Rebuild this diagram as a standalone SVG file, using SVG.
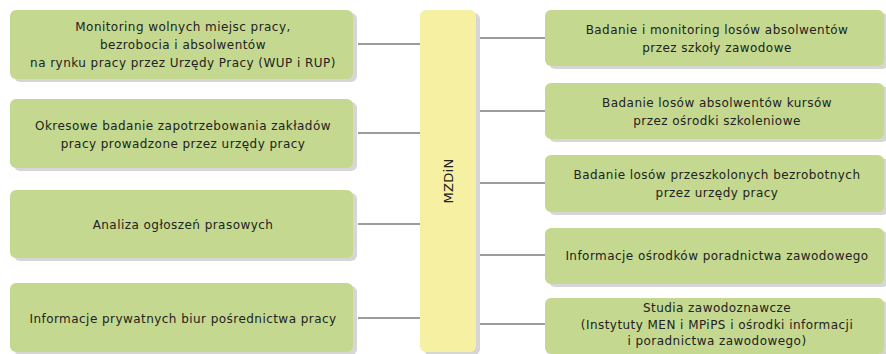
<svg xmlns="http://www.w3.org/2000/svg" width="886" height="354" viewBox="0 0 886 354">
  <style>
    .box { fill: #c4d98f; }
    .hub { fill: #f6f0a2; }
    .shadow { fill: #d6d6d6; }
    .lbl { font-family: "DejaVu Sans", "Liberation Sans", sans-serif; font-size: 12px; letter-spacing: 0.45px; fill: #222; text-anchor: middle; }
    .hubl { font-family: "DejaVu Sans", "Liberation Sans", sans-serif; font-size: 13px; letter-spacing: 0.3px; fill: #222; text-anchor: middle; }
    .link { stroke: #3a3a3a; stroke-width: 1.2; fill: none; }
  </style>
  <rect width="886" height="354" fill="#ffffff"/>

  <!-- connectors -->
  <g id="connectors">
    <line class="link" x1="358" y1="44" x2="420" y2="44"/>
    <line class="link" x1="358" y1="133" x2="420" y2="133"/>
    <line class="link" x1="358" y1="224" x2="420" y2="224"/>
    <line class="link" x1="358" y1="318" x2="420" y2="318"/>
    <line class="link" x1="480" y1="38" x2="545" y2="38"/>
    <line class="link" x1="480" y1="111" x2="545" y2="111"/>
    <line class="link" x1="480" y1="183" x2="545" y2="183"/>
    <line class="link" x1="480" y1="255" x2="545" y2="255"/>
    <line class="link" x1="480" y1="324" x2="545" y2="324"/>
  </g>

  <!-- central hub -->
  <g id="hub">
    <rect class="shadow" x="424" y="13" width="56" height="342" rx="6"/>
    <rect class="hub" x="420" y="10" width="56" height="342" rx="6"/>
    <text class="hubl" transform="translate(452.5,181) rotate(-90)">MZDiN</text>
  </g>

  <!-- left column -->
  <g id="l1">
    <rect class="shadow" x="14" y="13" width="343" height="69" rx="6"/>
    <rect class="box" x="10" y="10" width="343" height="69" rx="6"/>
    <text class="lbl" x="183" y="31">Monitoring wolnych miejsc pracy,</text>
    <text class="lbl" x="183" y="49">bezrobocia i absolwentów</text>
    <text class="lbl" x="183" y="67">na rynku pracy przez Urzędy Pracy (WUP i RUP)</text>
  </g>
  <g id="l2">
    <rect class="shadow" x="14" y="102" width="343" height="69" rx="6"/>
    <rect class="box" x="10" y="99" width="343" height="69" rx="6"/>
    <text class="lbl" x="183" y="129.5">Okresowe badanie zapotrzebowania zakładów</text>
    <text class="lbl" x="183" y="147.5">pracy prowadzone przez urzędy pracy</text>
  </g>
  <g id="l3">
    <rect class="shadow" x="14" y="193" width="343" height="68" rx="6"/>
    <rect class="box" x="10" y="190" width="343" height="68" rx="6"/>
    <text class="lbl" x="183" y="228.5">Analiza ogłoszeń prasowych</text>
  </g>
  <g id="l4">
    <rect class="shadow" x="14" y="286" width="343" height="69" rx="6"/>
    <rect class="box" x="10" y="283" width="343" height="69" rx="6"/>
    <text class="lbl" x="183" y="322.5">Informacje prywatnych biur pośrednictwa pracy</text>
  </g>

  <!-- right column -->
  <g id="r1">
    <rect class="shadow" x="549" y="13" width="339" height="56" rx="6"/>
    <rect class="box" x="545" y="10" width="339" height="56" rx="6"/>
    <text class="lbl" x="717" y="33.5">Badanie i monitoring losów absolwentów</text>
    <text class="lbl" x="717" y="51.5">przez szkoły zawodowe</text>
  </g>
  <g id="r2">
    <rect class="shadow" x="549" y="86" width="339" height="56" rx="6"/>
    <rect class="box" x="545" y="83" width="339" height="56" rx="6"/>
    <text class="lbl" x="717" y="106.5">Badanie losów absolwentów kursów</text>
    <text class="lbl" x="717" y="124.5">przez ośrodki szkoleniowe</text>
  </g>
  <g id="r3">
    <rect class="shadow" x="549" y="158" width="339" height="57" rx="6"/>
    <rect class="box" x="545" y="155" width="339" height="57" rx="6"/>
    <text class="lbl" x="717" y="179">Badanie losów przeszkolonych bezrobotnych</text>
    <text class="lbl" x="717" y="197">przez urzędy pracy</text>
  </g>
  <g id="r4">
    <rect class="shadow" x="549" y="231" width="339" height="56" rx="6"/>
    <rect class="box" x="545" y="228" width="339" height="56" rx="6"/>
    <text class="lbl" x="717" y="260">Informacje ośrodków poradnictwa zawodowego</text>
  </g>
  <g id="r5">
    <rect class="shadow" x="549" y="301" width="339" height="56" rx="6"/>
    <rect class="box" x="545" y="298" width="339" height="56" rx="6"/>
    <text class="lbl" x="717" y="312">Studia zawodoznawcze</text>
    <text class="lbl" x="717" y="328.5">(Instytuty MEN i MPiPS i ośrodki informacji</text>
    <text class="lbl" x="717" y="345">i poradnictwa zawodowego)</text>
  </g>
</svg>
